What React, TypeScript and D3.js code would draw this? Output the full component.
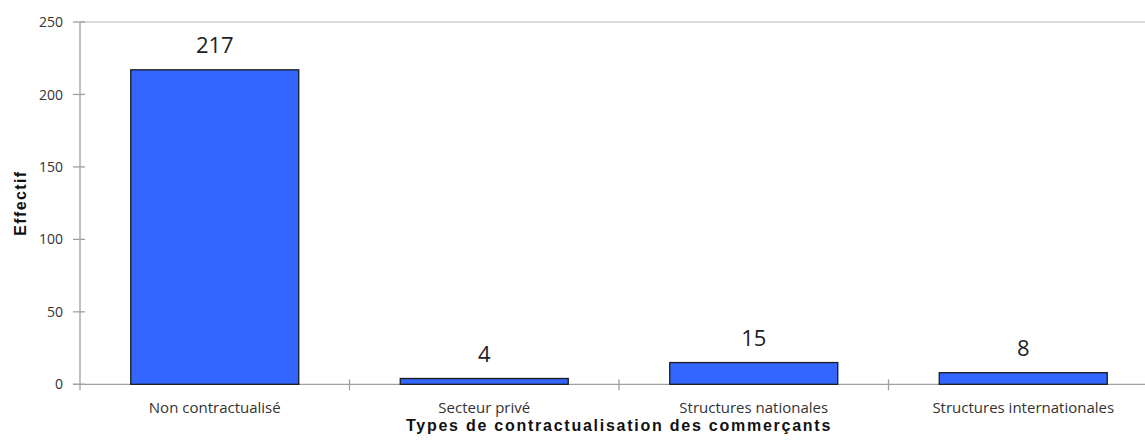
import React from "react";
import * as d3 from "d3";

const categories = ["Non contractualisé", "Secteur privé", "Structures nationales", "Structures internationales"];
const values = [217, 4, 15, 8];
const yTicks = [0, 50, 100, 150, 200, 250];
const xTitle = "Types de contractualisation des commerçants";
const yTitle = "Effectif";

const W = 1145;
const H = 445;
const left = 80;
const right = 1158;
const top = 22;
const bottom = 384.3;

export default function App() {
  const x = d3.scaleBand<string>().domain(categories).range([left, right]).paddingInner(0.377).paddingOuter(0.1885);
  const y = d3.scaleLinear().domain([0, 250]).range([bottom, top]);
  const bw = (right - left) / categories.length;
  const barW = 168;
  return (
    <svg width={W} height={H} style={{ position: "absolute", left: 0, top: 0, background: "#fff" }}>
      <line x1={left} x2={W} y1={top} y2={top} stroke="#cfcfcf" strokeWidth={1.5} />
      <line x1={left} x2={left} y1={top} y2={bottom + 6} stroke="#a0a0a0" strokeWidth={1.3} />
      {yTicks.map((t) => (
        <g key={t}>
          <line x1={73} x2={85} y1={y(t)} y2={y(t)} stroke="#a0a0a0" strokeWidth={1.3} />
          <text x={63} y={y(t)} dy="0.36em" textAnchor="end" fontFamily="'Open Sans', sans-serif" fontSize={14} fill="#333">
            {t}
          </text>
        </g>
      ))}
      <line x1={73} x2={W} y1={bottom} y2={bottom} stroke="#a0a0a0" strokeWidth={1.3} />
      {categories.map((c, i) => (
        <line key={c} x1={left + (i + 1) * bw} x2={left + (i + 1) * bw} y1={bottom - 5} y2={bottom + 6} stroke="#a0a0a0" strokeWidth={1.3} />
      ))}
      {categories.map((c, i) => {
        const cx = (x(c) as number) + x.bandwidth() / 2;
        const yv = y(values[i]);
        return (
          <g key={c}>
            <rect x={cx - barW / 2} y={yv} width={barW} height={bottom - yv} fill="#3366ff" stroke="#1a1a1a" strokeWidth={1.3} />
            <text x={cx} y={yv - 17} textAnchor="middle" fontFamily="'Open Sans', sans-serif" fontSize={22} fill="#222">
              {values[i]}
            </text>
            <text x={cx} y={413} textAnchor="middle" fontFamily="'Open Sans', sans-serif" fontSize={15} fill="#333">
              {c}
            </text>
          </g>
        );
      })}
      <text x={(left + right) / 2} y={431} textAnchor="middle" fontFamily="'Liberation Sans', Arial, sans-serif" fontWeight="bold" fontSize={16} letterSpacing={1.75} fill="#111">
        {xTitle}
      </text>
      <text transform={`translate(26,${(top + bottom) / 2}) rotate(-90)`} textAnchor="middle" fontFamily="'Liberation Sans', Arial, sans-serif" fontWeight="bold" fontSize={16} letterSpacing={1.4} fill="#111">
        {yTitle}
      </text>
    </svg>
  );
}
